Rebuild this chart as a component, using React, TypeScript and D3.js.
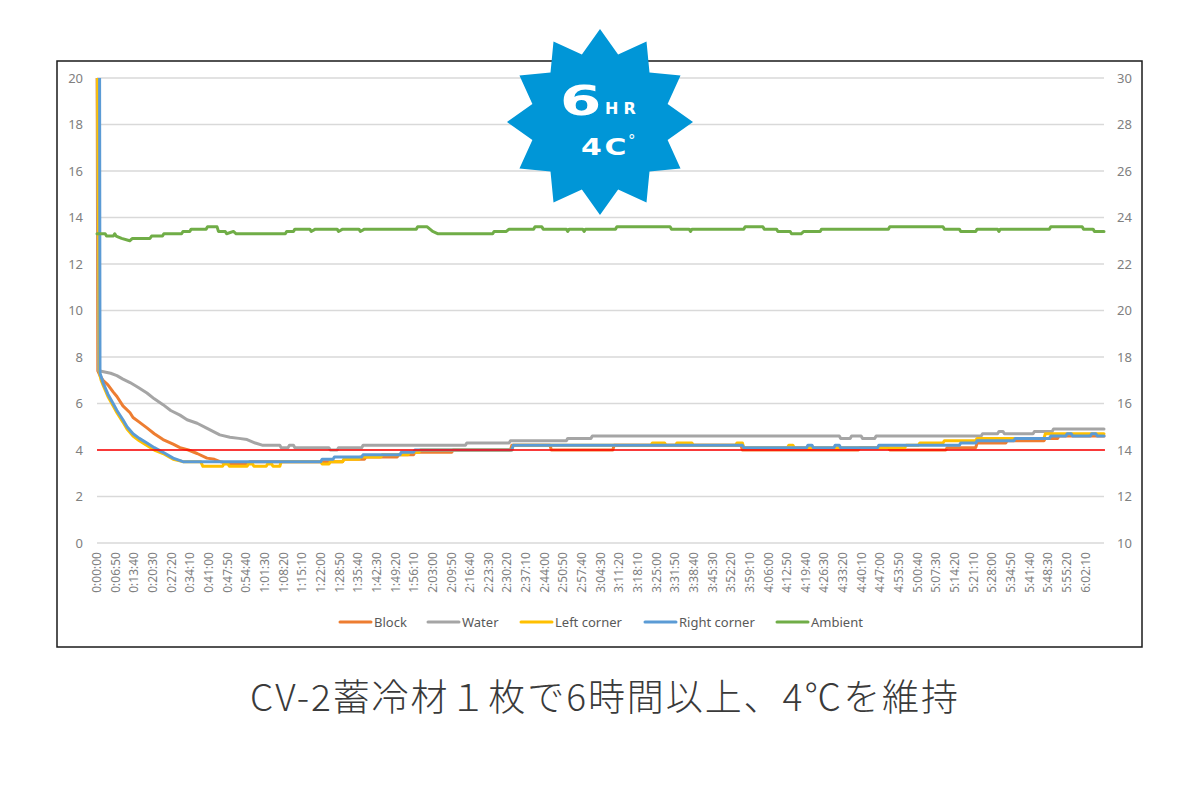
import * as d3 from 'd3';

// time in minutes from start, temperature in °C
const blockData: [number, number][] = [
  [0, 23.5], [0.3, 7.4], [1.1, 7.2], [2.2, 7.0], [4, 6.8], [5.9, 6.5], [7.3, 6.3], [9.5, 5.9], [12.1, 5.6],
  [13.2, 5.4], [15.5, 5.2], [18.3, 4.95], [21, 4.7], [24.2, 4.45], [27.9, 4.25], [30.4, 4.1], [33.5, 4.0],
  [36.7, 3.85], [40.3, 3.65], [43, 3.6], [45.1, 3.5], [48.7, 3.4], [55, 3.4], [56, 3.5], [90, 3.5], [90.5, 3.6],
  [98, 3.6], [98.5, 3.7], [110, 3.7], [110.5, 3.8], [116, 3.8], [116.5, 3.9], [130, 3.9], [130.5, 4.0],
  [151.5, 4.0], [152, 4.2], [166, 4.2], [166.5, 4.0], [189, 4.0], [189.5, 4.2], [236, 4.2], [236.5, 4.0],
  [279, 4.0], [279.5, 4.1], [290, 4.1], [290.5, 4.0], [311, 4.0], [311.5, 4.1], [322, 4.1], [322.5, 4.3],
  [333, 4.3], [333.5, 4.4], [347, 4.4], [347.5, 4.5], [352, 4.5], [352.5, 4.6], [369, 4.6],
];

const waterData: [number, number][] = [
  [0, 23], [0.6, 7.4], [1.1, 7.4], [5, 7.3], [7.3, 7.2], [9.5, 7.05], [12.1, 6.9], [15, 6.7], [18.3, 6.45],
  [21, 6.2], [24.2, 5.95], [27, 5.7], [30.4, 5.5], [33, 5.3], [36.7, 5.15], [40, 4.95], [42.5, 4.8], [45, 4.65],
  [48.7, 4.55], [52, 4.5], [55, 4.45], [58, 4.3], [60.8, 4.2], [67, 4.2], [67.5, 4.1], [70, 4.1], [70.5, 4.2],
  [72, 4.2], [72.5, 4.1], [85, 4.1], [85.5, 4.0], [88, 4.0], [88.5, 4.1], [97, 4.1], [97.5, 4.2], [135, 4.2],
  [135.5, 4.3], [151, 4.3], [151.5, 4.4], [172, 4.4], [172.5, 4.5], [181, 4.5], [181.5, 4.6], [272, 4.6],
  [272.5, 4.5], [276, 4.5], [276.5, 4.6], [280, 4.6], [280.5, 4.5], [285, 4.5], [285.5, 4.6], [324, 4.6],
  [324.5, 4.7], [330, 4.7], [330.5, 4.8], [332, 4.8], [332.5, 4.7], [343, 4.7], [343.5, 4.8], [350, 4.8],
  [350.5, 4.9], [369, 4.9],
];

const leftCornerData: [number, number][] = [
  [0, 24], [0.9, 7.3], [1.5, 7.0], [2.2, 6.8], [4, 6.3], [5.9, 5.9], [7.3, 5.6], [9.5, 5.2], [11, 4.9],
  [13.2, 4.6], [15.5, 4.4], [18.3, 4.2], [21, 4.0], [24.2, 3.85], [27.9, 3.6], [31.5, 3.5], [38, 3.5],
  [38.8, 3.3], [46, 3.3], [46.5, 3.4], [48, 3.4], [48.5, 3.3], [55, 3.3], [55.5, 3.4], [57, 3.4], [57.5, 3.3],
  [62, 3.3], [62.5, 3.4], [64, 3.4], [64.5, 3.3], [67, 3.3], [67.5, 3.5], [82, 3.5], [82.5, 3.4], [85, 3.4],
  [85.5, 3.5], [90, 3.5], [90.5, 3.6], [96, 3.6], [96.5, 3.7], [104, 3.7], [104.5, 3.8], [114, 3.8],
  [114.5, 3.9], [118, 3.9], [118.5, 4.0], [152, 4.0], [152.5, 4.2], [203, 4.2], [203.5, 4.3], [208, 4.3],
  [208.5, 4.2], [212, 4.2], [212.5, 4.3], [218, 4.3], [218.5, 4.2], [234, 4.2], [234.5, 4.3], [236.5, 4.3],
  [237, 4.1], [253, 4.1], [253.5, 4.2], [255, 4.2], [255.5, 4.1], [296, 4.1], [296.5, 4.2], [301, 4.2],
  [301.5, 4.3], [310, 4.3], [310.5, 4.4], [322, 4.4], [322.5, 4.5], [347, 4.5], [347.5, 4.7], [369, 4.7],
];

const rightCornerData: [number, number][] = [
  [0, 24], [0.9, 24], [1.1, 7.3], [2.2, 6.9], [4, 6.4], [5.9, 6.0], [7.3, 5.7], [9.5, 5.3], [11, 5.0],
  [13.2, 4.7], [15.5, 4.5], [18.3, 4.3], [21, 4.1], [24.2, 3.9], [27.9, 3.65], [31.5, 3.5], [82, 3.5],
  [82.5, 3.6], [86.5, 3.6], [87, 3.7], [97, 3.7], [97.5, 3.8], [111, 3.8], [111.5, 3.9], [116, 3.9],
  [116.5, 4.0], [152, 4.0], [152.5, 4.2], [236.5, 4.2], [237, 4.1], [260, 4.1], [260.5, 4.2], [262, 4.2],
  [262.5, 4.1], [270, 4.1], [270.5, 4.2], [272, 4.2], [272.5, 4.1], [286, 4.1], [286.5, 4.2], [316, 4.2],
  [316.5, 4.3], [322, 4.3], [322.5, 4.4], [336, 4.4], [336.5, 4.5], [349, 4.5], [349.5, 4.6], [355, 4.6],
  [355.5, 4.7], [357, 4.7], [357.5, 4.6], [364, 4.6], [364.5, 4.7], [366, 4.7], [366.5, 4.6], [369, 4.6],
];

// ambient is read against the right axis (10–30)
const ambientData: [number, number][] = [
  [0, 23.3], [3, 23.3], [3.5, 23.2], [6, 23.2], [6.5, 23.3], [7, 23.2], [9, 23.1], [12, 23.0], [13, 23.1],
  [19.4, 23.1], [20, 23.2], [24, 23.2], [24.5, 23.3], [31, 23.3], [31.5, 23.4], [34, 23.4], [34.5, 23.5],
  [40, 23.5], [40.5, 23.6], [44, 23.6], [44.5, 23.4], [47, 23.4], [47.5, 23.3], [50, 23.4], [51, 23.3],
  [69, 23.3], [69.5, 23.4], [72, 23.4], [72.5, 23.5], [78, 23.5], [78.5, 23.4], [80, 23.5], [88, 23.5],
  [88.5, 23.4], [90, 23.5], [96, 23.5], [96.5, 23.4], [98, 23.5], [117, 23.5], [117.5, 23.6], [121, 23.6],
  [122, 23.5], [123, 23.4], [125, 23.3], [145, 23.3], [145.5, 23.4], [150, 23.4], [151, 23.5], [160, 23.5],
  [160.5, 23.6], [163, 23.6], [163.5, 23.5], [172, 23.5], [172.5, 23.4], [173, 23.5], [178, 23.5],
  [178.5, 23.4], [179, 23.5], [190, 23.5], [190.5, 23.6], [210, 23.6], [210.5, 23.5], [217, 23.5],
  [217.5, 23.4], [218, 23.5], [237, 23.5], [237.5, 23.6], [244, 23.6], [244.5, 23.5], [249, 23.5],
  [249.5, 23.4], [254, 23.4], [254.5, 23.3], [258, 23.3], [259, 23.4], [265, 23.4], [265.5, 23.5],
  [290, 23.5], [290.5, 23.6], [310, 23.6], [310.5, 23.5], [316, 23.5], [316.5, 23.4], [322, 23.4],
  [322.5, 23.5], [330, 23.5], [330.5, 23.4], [331, 23.5], [349, 23.5], [349.5, 23.6], [361, 23.6],
  [361.5, 23.5], [365, 23.5], [365.5, 23.4], [369, 23.4],
];

const xTickLabels = [
  '0:00:00', '0:06:50', '0:13:40', '0:20:30', '0:27:20', '0:34:10', '0:41:00', '0:47:50', '0:54:40',
  '1:01:30', '1:08:20', '1:15:10', '1:22:00', '1:28:50', '1:35:40', '1:42:30', '1:49:20', '1:56:10',
  '2:03:00', '2:09:50', '2:16:40', '2:23:30', '2:30:20', '2:37:10', '2:44:00', '2:50:50', '2:57:40',
  '3:04:30', '3:11:20', '3:18:10', '3:25:00', '3:31:50', '3:38:40', '3:45:30', '3:52:20', '3:59:10',
  '4:06:00', '4:12:50', '4:19:40', '4:26:30', '4:33:20', '4:40:10', '4:47:00', '4:53:50', '5:00:40',
  '5:07:30', '5:14:20', '5:21:10', '5:28:00', '5:34:50', '5:41:40', '5:48:30', '5:55:20', '6:02:10',
];

const series = [
  { name: 'Block', data: blockData, color: '#ED7D31', axis: 'left' },
  { name: 'Water', data: waterData, color: '#A5A5A5', axis: 'left' },
  { name: 'Left corner', data: leftCornerData, color: '#FFC000', axis: 'left' },
  { name: 'Right corner', data: rightCornerData, color: '#5B9BD5', axis: 'left' },
  { name: 'Ambient', data: ambientData, color: '#70AD47', axis: 'right' },
];

const limitValue = 4;
const caption = 'CV-2蓄冷材１枚で6時間以上、4℃を維持';

const toMinutes = (s: string) => {
  const [h, m, sec] = s.split(':').map(Number);
  return h * 60 + m + sec / 60;
};

export default function App() {
  const left = 97;
  const right = 1104;
  const top = 78;
  const bottom = 543;

  const x = d3.scaleLinear().domain([0, 369]).range([left, right]);
  const yL = d3.scaleLinear().domain([0, 20]).range([bottom, top]);
  const yR = d3.scaleLinear().domain([10, 30]).range([bottom, top]);

  const lineFor = (axis: string) =>
    d3
      .line<[number, number]>()
      .x((d) => x(d[0]))
      .y((d) => (axis === 'left' ? yL(d[1]) : yR(d[1])));

  const font = '"Noto Sans", "Noto Sans CJK JP", sans-serif';
  const tickColor = '#808080';

  // 12-point starburst
  const cx = 600;
  const cy = 122;
  const starPts: [number, number][] = d3.range(24).map((i) => {
    const r = i % 2 === 0 ? 93 : 70;
    const a = (i * Math.PI) / 12 - Math.PI / 2;
    return [cx + r * Math.cos(a), cy + r * Math.sin(a)];
  });

  // legend
  const legendX = [340, 428, 521, 645, 777];

  return (
    <svg width={1200} height={800} style={{ position: 'absolute', left: 0, top: 0 }}>
      <rect x={0} y={0} width={1200} height={800} fill="#fff" />
      <defs>
        <clipPath id="plot">
          <rect x={left - 4} y={top} width={right - left + 8} height={bottom - top + 2} />
        </clipPath>
      </defs>
      <rect x={57} y={61} width={1085} height={586} fill="none" stroke="#1a1a1a" strokeWidth={1.5} />

      {/* gridlines + y axes */}
      {yL.ticks(10).map((t) => (
        <g key={t}>
          <line x1={left} x2={right} y1={yL(t)} y2={yL(t)} stroke="#d9d9d9" strokeWidth={1.3} />
          <text x={83} y={yL(t)} dy="0.35em" textAnchor="end" fontSize={13} fill={tickColor} fontFamily={font}>
            {t}
          </text>
        </g>
      ))}
      {yR.ticks(10).map((t) => (
        <text key={t} x={1117} y={yR(t)} dy="0.35em" fontSize={13} fill={tickColor} fontFamily={font}>
          {t}
        </text>
      ))}

      {/* x axis labels */}
      {xTickLabels.map((s) => (
        <text
          key={s}
          transform={`translate(${x(toMinutes(s))}, 552) rotate(-90)`}
          dy="0.35em"
          textAnchor="end"
          fontSize={12}
          fill={tickColor}
          fontFamily={font}
        >
          {s}
        </text>
      ))}

      {/* series */}
      <g clipPath="url(#plot)">
        {series.map((s) => (
          <path
            key={s.name}
            d={lineFor(s.axis)(s.data) ?? ''}
            fill="none"
            stroke={s.color}
            strokeWidth={3}
            strokeLinejoin="round"
            strokeLinecap="round"
          />
        ))}
      </g>
      <line x1={left} x2={right + 1} y1={yL(limitValue)} y2={yL(limitValue)} stroke="#FF0000" strokeWidth={1.5} />

      {/* legend */}
      {series.map((s, i) => (
        <g key={s.name} transform={`translate(${legendX[i]}, 622)`}>
          <line x1={0} x2={31} y1={0} y2={0} stroke={s.color} strokeWidth={3} strokeLinecap="round" />
          <text x={34} y={0} dy="0.35em" fontSize={13} fill="#595959" fontFamily={font}>
            {s.name}
          </text>
        </g>
      ))}

      {/* badge */}
      <polygon points={starPts.map((p) => p.join(',')).join(' ')} fill="#0096D7" />
      <text
        transform="translate(560, 115) scale(1.45, 1)"
        fontSize={41}
        fontWeight="bold"
        fill="#fff"
        fontFamily='"DejaVu Sans", sans-serif'
      >
        6
      </text>
      <text x={605} y={114} fontSize={16} fontWeight="bold" fill="#fff" letterSpacing={5} fontFamily='"DejaVu Sans", sans-serif'>
        HR
      </text>
      <text
        transform="translate(581, 155) scale(1.3, 1)"
        fontSize={23}
        fontWeight="bold"
        fill="#fff"
        letterSpacing={2}
        fontFamily='"DejaVu Sans", sans-serif'
      >
        4C
      </text>
      <text x={628} y={146} fontSize={15} fill="#fff" fontFamily='"DejaVu Sans", sans-serif'>
        °
      </text>

      {/* caption */}
      <text
        x={250}
        y={711}
        fontSize={37}
        fontWeight={300}
        fill="#3a3a3a"
        textLength={708}
        lengthAdjust="spacing"
        fontFamily='"Noto Sans CJK JP", sans-serif'
      >
        {caption}
      </text>
    </svg>
  );
}
